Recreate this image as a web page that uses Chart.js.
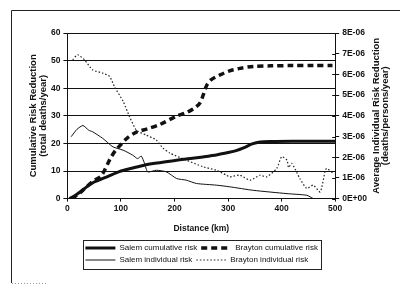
<!DOCTYPE html>
<html>
<head>
<meta charset="utf-8">
<script src="https://cdn.jsdelivr.net/npm/chart.js@4.4.0/dist/chart.umd.min.js"></script>
<style>
  html, body { margin: 0; padding: 0; background: #fff; }
</style>
</head>
<body>
<canvas id="risco" width="400" height="285"></canvas>
<script>
// valores (km, deaths/year e deaths/person/year)
var salemCumKm  = [4, 15, 28, 40, 50, 60, 75, 97, 120, 145, 175, 204, 230, 253, 280, 300, 315, 330, 345, 360, 380, 420, 460, 500];
var salemCum    = [0, 1.2, 3, 4.8, 6, 6.8, 8, 9.8, 11, 12.2, 13.1, 13.9, 14.5, 15.1, 15.9, 16.7, 17.4, 18.5, 19.8, 20.5, 20.7, 20.8, 20.8, 20.8];

var braytonCumKm = [8, 20, 32, 50, 62, 70, 80, 90, 100, 112, 128, 150, 172, 204, 225, 240, 248, 254, 260, 268, 285, 303, 320, 347, 380, 420, 460, 495];
var braytonCum   = [0, 1.5, 3.6, 6.6, 8, 10.5, 14.5, 17.5, 19.6, 22, 24, 25.3, 26.8, 29.9, 31.4, 33.2, 34.8, 37.8, 41, 43, 44.8, 46.3, 47.1, 47.9, 48.1, 48.2, 48.2, 48.2];

var salemIndKm = [7, 18, 29, 40, 47, 66, 85, 104, 122, 131, 138, 144, 150, 166, 185, 204, 222, 241, 278, 303, 347, 410, 447, 459];
var salemInd   = [2.99e-6, 3.35e-6, 3.53e-6, 3.3e-6, 3.23e-6, 2.91e-6, 2.5e-6, 2.34e-6, 2.1e-6, 1.93e-6, 2.05e-6, 1.7e-6, 1.29e-6, 1.37e-6, 1.29e-6, 0.97e-6, 0.89e-6, 0.73e-6, 0.65e-6, 0.57e-6, 0.4e-6, 0.24e-6, 0.16e-6, 0];

var braytonIndKm = [10, 19, 32, 47, 66, 79, 88, 104, 116, 129, 147, 166, 178, 191, 222, 253, 278, 297, 303, 322, 341, 360, 372, 391, 400, 410, 413, 419, 434, 447, 459, 472, 481, 484, 497];
var braytonInd   = [6.7e-6, 6.95e-6, 6.7e-6, 6.22e-6, 6.06e-6, 5.9e-6, 5.4e-6, 4.7e-6, 3.96e-6, 3.3e-6, 3.07e-6, 2.83e-6, 2.45e-6, 2.2e-6, 1.86e-6, 1.54e-6, 1.37e-6, 1.13e-6, 1.05e-6, 1.13e-6, 0.89e-6, 1.13e-6, 1.05e-6, 1.46e-6, 2.02e-6, 1.86e-6, 1.5e-6, 1.7e-6, 0.97e-6, 0.49e-6, 0.65e-6, 0.32e-6, 1.3e-6, 1.46e-6, 1.21e-6];

var rightTickLabels = ["0E+00", "1E-06", "2E-06", "3E-06", "4E-06", "5E-06", "6E-06", "7E-06", "8E-06"];
var leftTitle  = ["Cumulative Risk Reduction", "(total deaths/year)"];
var rightTitle = ["Average Individual Risk Reduction", "(deaths/persons/year)"];
var xTitle = "Distance (km)";

function pares(km, vals) {
  return km.map(function (k, i) { return { x: k, y: vals[i] }; });
}

var fonte = '"Liberation Sans", Arial, sans-serif';
var preto = '#111';

// moldura externa, titulo direito e caixa da legenda
var extras = {
  id: 'extras',
  afterLayout: function (chart) {
    var lg = chart.legend;
    lg.left += 14;
    lg.right += 14;
  },
  beforeDraw: function (chart) {
    var ctx = chart.ctx;
    ctx.save();
    ctx.fillStyle = '#fff';
    ctx.fillRect(0, 0, chart.width, chart.height);
    ctx.strokeStyle = '#222';
    ctx.lineWidth = 1;
    ctx.beginPath();
    ctx.moveTo(11.5, 283);
    ctx.lineTo(11.5, 10.5);
    ctx.lineTo(400, 10.5);
    ctx.stroke();
    ctx.strokeStyle = '#999';
    ctx.setLineDash([1, 2]);
    ctx.beginPath();
    ctx.moveTo(12, 283.5);
    ctx.lineTo(48, 283.5);
    ctx.stroke();
    ctx.restore();
  },
  afterDraw: function (chart) {
    var ctx = chart.ctx;
    var a = chart.chartArea;
    var s = chart.scales.y1;
    ctx.save();
    // marcas internas do eixo direito
    ctx.strokeStyle = preto;
    ctx.lineWidth = 1;
    s.ticks.forEach(function (t) {
      var py = Math.round(s.getPixelForValue(t.value)) + 0.5;
      ctx.beginPath();
      ctx.moveTo(a.right - 3, py);
      ctx.lineTo(a.right, py);
      ctx.stroke();
    });
    ctx.font = 'bold 9.5px ' + fonte;
    ctx.fillStyle = preto;
    ctx.textAlign = 'center';
    ctx.textBaseline = 'middle';
    var cy = (a.top + a.bottom) / 2;
    rightTitle.forEach(function (t, i) {
      ctx.save();
      ctx.translate(s.right + 6 + i * 9.5, cy);
      ctx.rotate(-Math.PI / 2);
      ctx.fillText(t, 0, 0);
      ctx.restore();
    });
    // caixa da legenda
    var lg = chart.legend;
    var pad = lg.options.labels.padding;
    var largura = Math.max.apply(null, lg.lineWidths);
    ctx.strokeStyle = '#222';
    ctx.strokeRect(Math.round(lg.left + pad - 2) + 0.5, Math.round(lg.top) + 0.5, Math.round(largura + 2), 29);
    ctx.restore();
  }
};

var ctx = document.getElementById('risco');

var grafico = new Chart(ctx, {
  type: 'line',
  data: {
    datasets: [
      {
        label: 'Salem cumulative risk',
        data: pares(salemCumKm, salemCum),
        yAxisID: 'y',
        borderColor: preto,
        borderWidth: 3,
        tension: 0.3,
        pointRadius: 0
      },
      {
        label: 'Brayton cumulative risk',
        data: pares(braytonCumKm, braytonCum),
        yAxisID: 'y',
        borderColor: preto,
        borderWidth: 3.5,
        borderDash: [6, 4],
        tension: 0.3,
        pointRadius: 0
      },
      {
        label: 'Salem individual risk',
        data: pares(salemIndKm, salemInd),
        yAxisID: 'y1',
        borderColor: preto,
        borderWidth: 1,
        tension: 0.2,
        pointRadius: 0
      },
      {
        label: 'Brayton individual risk',
        data: pares(braytonIndKm, braytonInd),
        yAxisID: 'y1',
        borderColor: '#222',
        borderWidth: 1.2,
        borderDash: [1.5, 2],
        tension: 0.2,
        pointRadius: 0
      }
    ]
  },
  options: {
    responsive: false,
    animation: false,
    devicePixelRatio: 1,
    layout: { padding: { left: 28, top: 33, right: 30, bottom: 11 } },
    plugins: {
      tooltip: { enabled: false },
      legend: {
        position: 'bottom',
        align: 'start',
        fullSize: false,
        labels: {
          usePointStyle: true,
          pointStyle: 'line',
          pointStyleWidth: 30,
          padding: 4,
          color: preto,
          font: { family: fonte, size: 8 },
          generateLabels: function (chart) {
            var itens = Chart.defaults.plugins.legend.labels.generateLabels(chart);
            itens.forEach(function (it, i) {
              var ds = chart.data.datasets[i];
              it.lineDash = ds.borderDash || [];
              it.lineWidth = ds.borderWidth;
              it.strokeStyle = ds.borderColor;
            });
            return itens;
          }
        }
      }
    },
    scales: {
      x: {
        type: 'linear',
        min: 0,
        max: 500,
        ticks: { stepSize: 100, color: preto, padding: 2, font: { family: fonte, size: 8.5, weight: 'bold' } },
        grid: { drawOnChartArea: false, tickLength: 3, color: preto },
        border: { color: preto },
        title: { display: true, text: xTitle, color: preto, padding: { top: 8, bottom: 6 }, font: { family: fonte, size: 8.5, weight: 'bold' } }
      },
      y: {
        position: 'left',
        min: 0,
        max: 60,
        ticks: { stepSize: 10, color: preto, padding: 3, font: { family: fonte, size: 8.5, weight: 'bold' } },
        grid: { color: preto, tickLength: 4 },
        border: { color: preto },
        title: { display: true, text: leftTitle, color: preto, padding: { top: 0, bottom: 0 }, font: { family: fonte, size: 9.5, weight: 'bold', lineHeight: 1.05 } }
      },
      y1: {
        position: 'right',
        min: 0,
        max: 8e-6,
        afterBuildTicks: function (axis) {
          axis.ticks = rightTickLabels.map(function (l, i) { return { value: i * 1e-6 }; });
        },
        ticks: {
          color: preto,
          padding: 3,
          font: { family: fonte, size: 8.5, weight: 'bold' },
          callback: function (v, i) { return rightTickLabels[i]; }
        },
        grid: { drawOnChartArea: false, tickLength: 4, color: preto },
        border: { color: preto }
      }
    }
  },
  plugins: [extras]
});
</script>
</body>
</html>
